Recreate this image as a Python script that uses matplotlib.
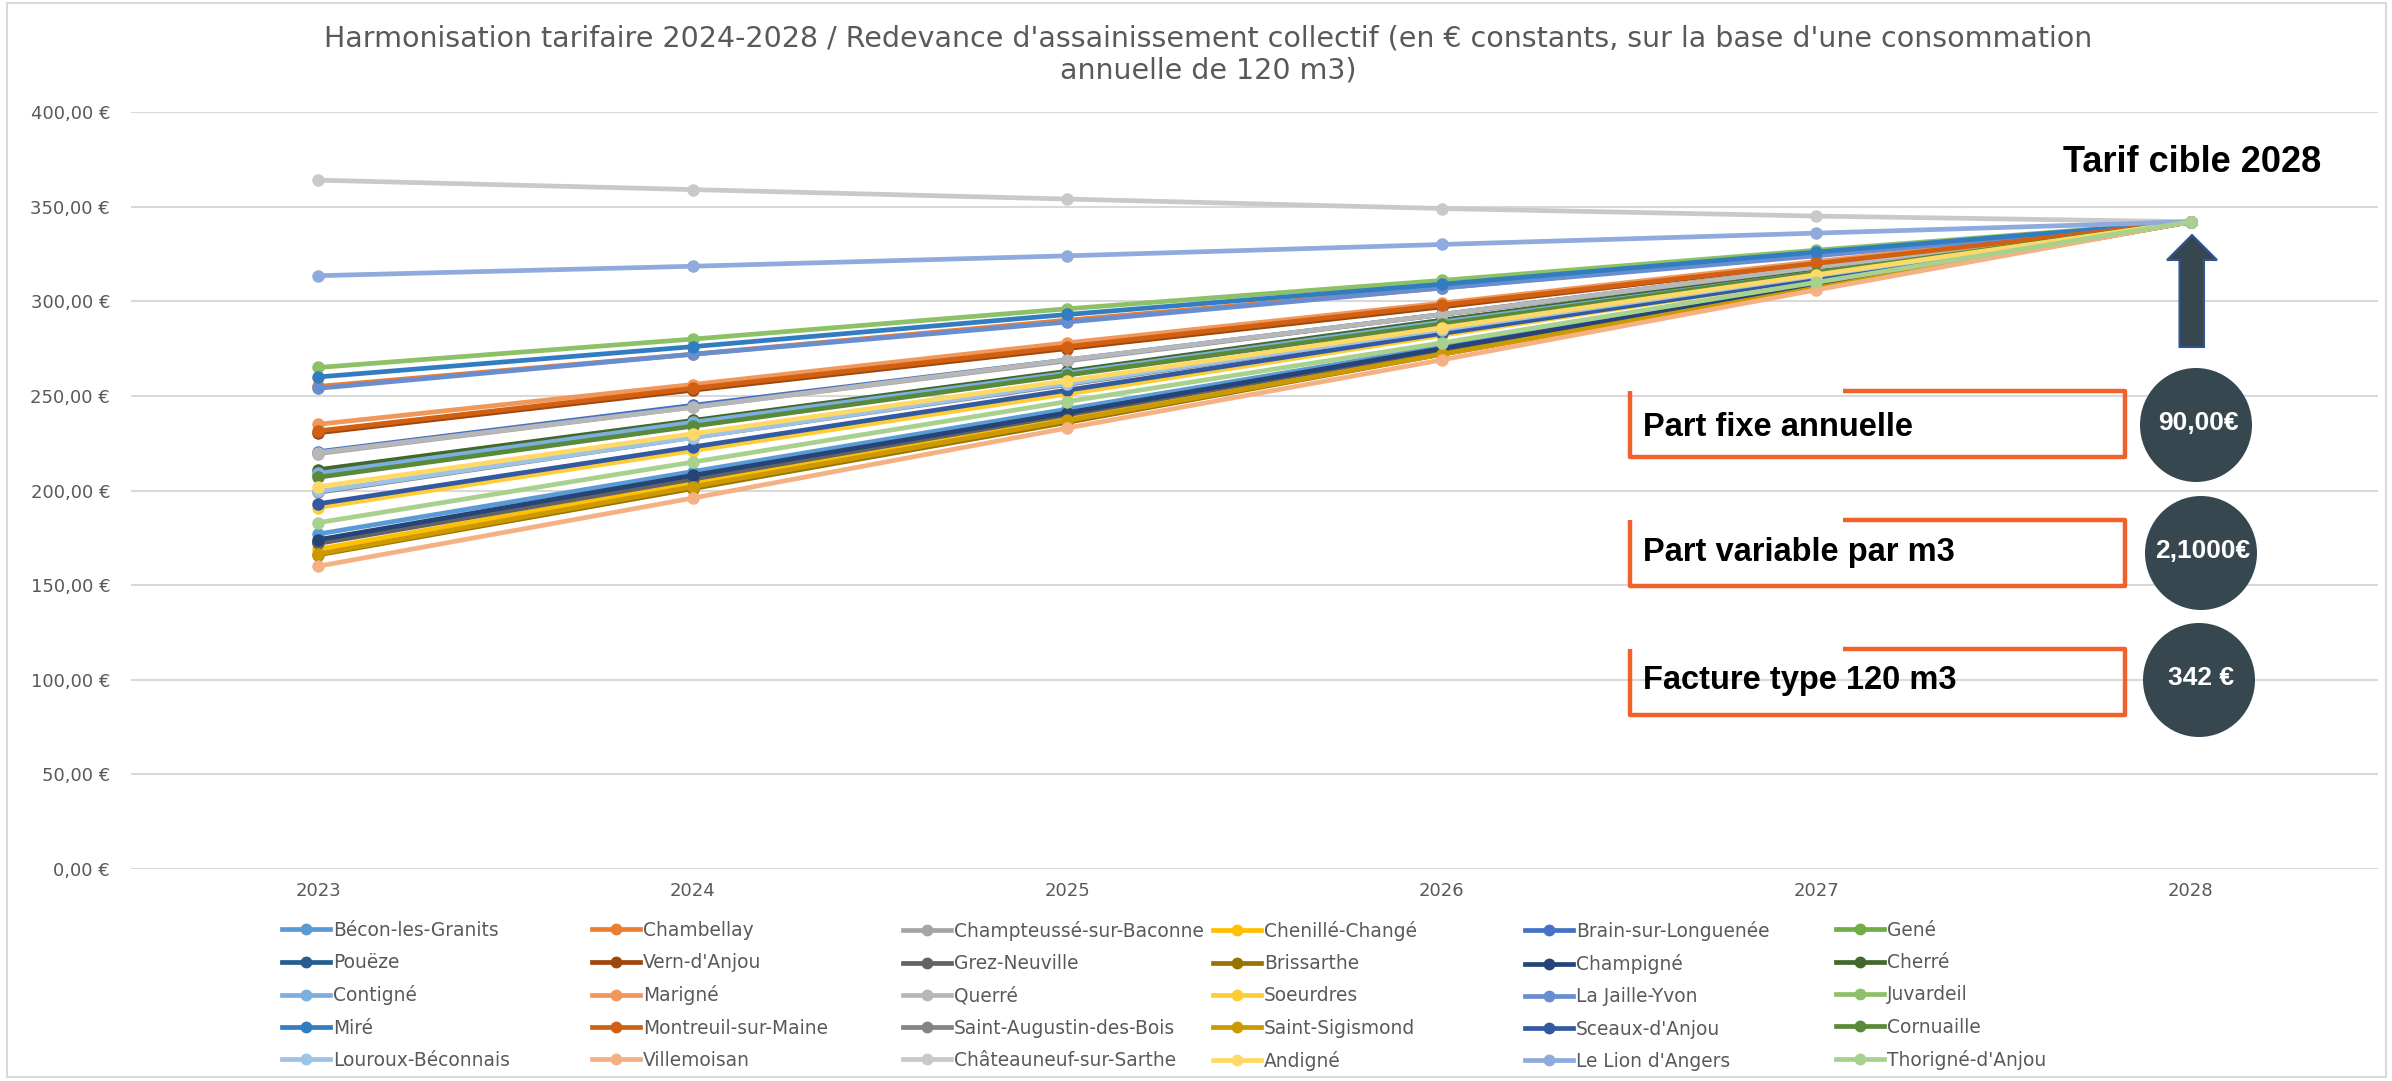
import matplotlib
matplotlib.use("Agg")
import matplotlib.pyplot as plt
from matplotlib.lines import Line2D
from matplotlib.patches import Ellipse, Polygon, Rectangle
from matplotlib.ticker import FuncFormatter
import numpy as np

W, H, DPI = 2392, 1081, 100

# ---------------- data ----------------
years = ["2023", "2024", "2025", "2026", "2027", "2028"]

communes = [
    "Bécon-les-Granits", "Chambellay", "Champteussé-sur-Baconne", "Chenillé-Changé",
    "Brain-sur-Longuenée", "Gené",
    "Pouëze", "Vern-d'Anjou", "Grez-Neuville", "Brissarthe", "Champigné", "Cherré",
    "Contigné", "Marigné", "Querré", "Soeurdres", "La Jaille-Yvon", "Juvardeil",
    "Miré", "Montreuil-sur-Maine", "Saint-Augustin-des-Bois", "Saint-Sigismond",
    "Sceaux-d'Anjou", "Cornuaille",
    "Louroux-Béconnais", "Villemoisan", "Châteauneuf-sur-Sarthe", "Andigné",
    "Le Lion d'Angers", "Thorigné-d'Anjou",
]

colors = [
    "#5B9BD5", "#ED7D31", "#A5A5A5", "#FFC000", "#4472C4", "#70AD47",
    "#255E91", "#9E480E", "#636363", "#997300", "#264478", "#43682B",
    "#7CAFDD", "#F1975A", "#B7B7B7", "#FFCD33", "#698ED0", "#8CC168",
    "#327DC2", "#D26012", "#848484", "#CC9A00", "#335AA1", "#5A8A39",
    "#9DC3E6", "#F4B183", "#C9C9C9", "#FFD966", "#8FAADC", "#A9D18E",
]

v2023 = [177, 255, 219.5, 169, 220.5, 208, 173, 230.5, 172, 166, 174, 211,
         209, 235, 220, 191, 254, 265, 260, 231.5, 199, 166.5, 193, 207,
         199.5, 160, 364, 202, 313.5, 183]
v2024 = [210, 272, 244, 204, 245, 235, 207, 253, 206, 201, 208, 237,
         236, 256, 244, 221, 272, 280, 276, 254, 228, 202, 223, 234,
         228, 196, 359, 230, 318.5, 215]
v2025 = [243, 290, 268.5, 238, 269, 262, 241, 275, 240, 236, 241, 263,
         262, 278, 269, 251, 289, 296, 293, 276, 256, 237, 253, 261,
         256.5, 233, 354, 258, 324, 247]
v2026 = [276, 307, 293, 273, 293, 288, 274, 297, 274, 272, 275, 290,
         289, 299, 293, 282, 307, 311, 309, 298, 285, 272, 283, 288,
         285, 269, 349, 286, 330, 278]
v2027 = [309, 325, 317.5, 307, 318, 315, 308, 320, 308, 307, 308, 316,
         315, 321, 318, 312, 324, 327, 326, 320, 313, 307, 312, 315,
         313.5, 306, 345, 314, 336, 310]
v2028 = [342] * 30

yticks = [0, 50, 100, 150, 200, 250, 300, 350, 400]

title_l1 = ("Harmonisation tarifaire 2024-2028 / Redevance d'assainissement collectif "
            "(en € constants, sur la base d'une consommation")
title_l2 = "annuelle de 120 m3)"
box_labels = ["Part fixe annuelle", "Part variable par m3", "Facture type 120 m3"]
box_values = ["90,00€", "2,1000€", "342 €"]
target_label = "Tarif cible 2028"

# ---------------- helpers (figure pixel -> fraction) ----------------
def fx(x):
    return x / W

def fy(y):
    return 1 - y / H

fig = plt.figure(figsize=(W / DPI, H / DPI), dpi=DPI)
fig.patch.set_facecolor("white")

# chart frame
fig.add_artist(Rectangle((fx(7), fy(1077)), (2386 - 7) / W, (1077 - 3) / H,
                         transform=fig.transFigure, fill=False,
                         edgecolor="#D9D9D9", lw=1.5))

ax = fig.add_axes([fx(131), fy(869), (2378 - 131) / W, (869 - 112) / H])
ax.set_facecolor("none")

series = np.array([v2023, v2024, v2025, v2026, v2027, v2028]).T
xs = np.arange(len(years))
for i, name in enumerate(communes):
    ax.plot(xs, series[i], color=colors[i], lw=3.4, marker="o", ms=8,
            solid_capstyle="round", zorder=3 + i * 0.01, label=name)

ax.set_xlim(-0.5, len(years) - 0.5)
ax.set_ylim(0, 400)
ax.set_xticks(xs)
ax.set_xticklabels(years)
ax.set_yticks(yticks)
ax.yaxis.set_major_formatter(FuncFormatter(lambda v, p: f"{v:.2f}".replace(".", ",") + " €"))
ax.yaxis.grid(True, color="#D9D9D9", lw=1.5)
ax.set_axisbelow(True)
for s in ax.spines.values():
    s.set_visible(False)
ax.tick_params(axis="both", length=0, labelsize=13, labelcolor="#595959")
ax.tick_params(axis="y", pad=15)
ax.tick_params(axis="x", pad=9)

# title
fig.text(fx(1208), fy(39), title_l1, ha="center", va="center", fontsize=20.5, color="#595959")
fig.text(fx(1208), fy(71), title_l2, ha="center", va="center", fontsize=20.5, color="#595959")

# legend: 6 equal columns, row-major order
col_x = [282, 592, 903, 1213, 1525, 1836]
for c in range(6):
    idx = list(range(c, len(communes), 6))
    handles = [Line2D([], [], color=colors[i], lw=3.4, marker="o", ms=7.5) for i in idx]
    labels = [communes[i] for i in idx]
    fig.legend(handles, labels, loc="upper left", bbox_to_anchor=(fx(col_x[c]), fy(921)),
               frameon=False, borderpad=0, borderaxespad=0, handlelength=2.6,
               handletextpad=0.15, labelspacing=0.71, fontsize=13.4, labelcolor="#595959")

# target label
fig.text(fx(2192), fy(163), target_label, ha="center", va="center", fontsize=26,
         fontweight="bold", family="Liberation Sans", color="black")

# arrow
arrow_pts = [(2179.5, 347), (2179.5, 260), (2167, 260), (2192, 235),
             (2217, 260), (2204, 260), (2204, 347)]
fig.add_artist(Polygon([(fx(x), fy(y)) for x, y in arrow_pts], closed=True,
                       transform=fig.transFigure, facecolor="#37474F",
                       edgecolor="#2F5597", lw=1.5))

# boxes with labels and circles
orange = "#F0622A"
box_tops = [391, 520, 649]
box_h = 66
text_y = [428, 552, 680]
circ_c = [(2196, 425), (2201, 553), (2199, 680)]
for k in range(3):
    t = box_tops[k]
    b = t + box_h
    px_ = [1843, 2125, 2125, 1630, 1630]
    py_ = [t, t, b, b, t]
    fig.add_artist(Line2D([fx(x) for x in px_], [fy(y) for y in py_],
                          transform=fig.transFigure, color=orange, lw=3.2,
                          solid_joinstyle="round", solid_capstyle="butt"))
    fig.text(fx(1643), fy(text_y[k]), box_labels[k], ha="left", va="center",
             fontsize=23.5, fontweight="bold", family="Liberation Sans", color="black")
    cx, cy = circ_c[k]
    fig.add_artist(Ellipse((fx(cx), fy(cy)), 112 / W, 114 / H,
                           transform=fig.transFigure, facecolor="#37474F", edgecolor="none"))
    fig.text(fx(cx + 2), fy(cy - 2), box_values[k], ha="center", va="center",
             fontsize=19, fontweight="bold", family="Liberation Sans", color="white")

fig.savefig("out.png", dpi=DPI, facecolor="white")
